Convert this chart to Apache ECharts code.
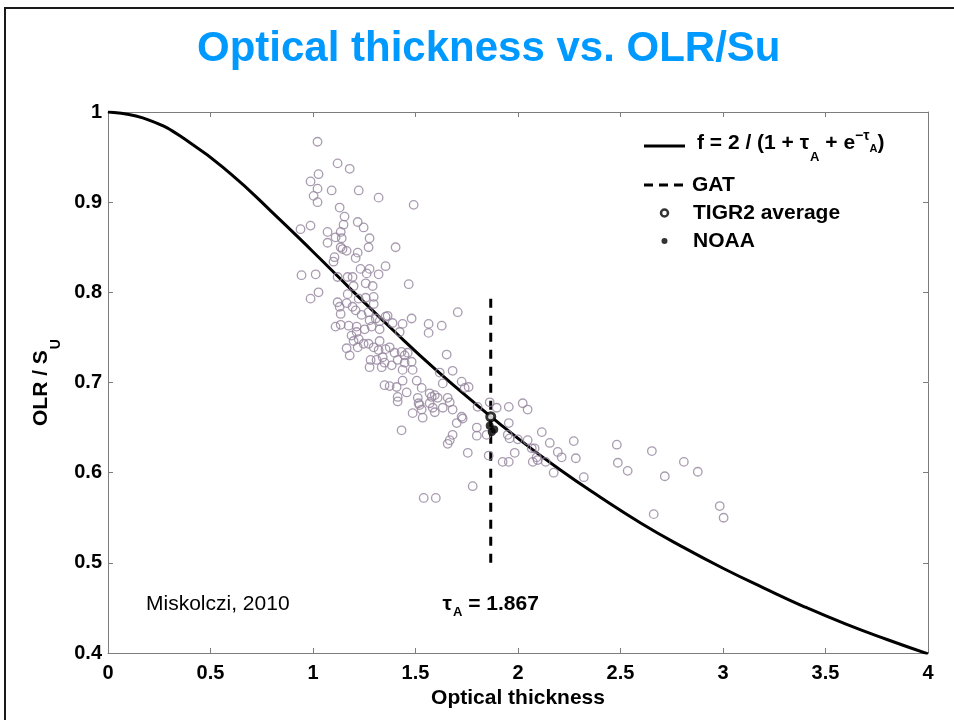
<!DOCTYPE html>
<html>
<head>
<meta charset="utf-8">
<script src="https://cdn.jsdelivr.net/npm/echarts@6/dist/echarts.min.js"></script>
<style>
  html, body { margin: 0; padding: 0; background: #ffffff; }
  #chart { width: 954px; height: 720px; }
</style>
</head>
<body>
<div id="chart"></div>
<script>
// Model curve f = 2 / (1 + tau + e^-tau), sampled every 0.2
const curveTau = [0, 0.2, 0.4, 0.6, 0.8, 1.0, 1.2, 1.4, 1.6, 1.8, 2.0, 2.2, 2.4, 2.6, 2.8, 3.0, 3.2, 3.4, 3.6, 3.8, 4.0];
const curveF   = [1.000, 0.991, 0.966, 0.931, 0.889, 0.845, 0.800, 0.756, 0.714, 0.675, 0.638, 0.604, 0.573, 0.544, 0.518, 0.494, 0.472, 0.451, 0.432, 0.415, 0.399];

// Global average tau (GAT) marker line
const gatTau = 1.867;
const gatRange = [0.5, 0.8];

// Individual TIGR2 profiles: [optical thickness, OLR / S_U]
const tigrProfiles = [
  [1.022, 0.967], [1.120, 0.943], [1.179, 0.937], [1.027, 0.931], [0.988, 0.923], [1.022, 0.915],
  [1.091, 0.913], [1.223, 0.913], [1.003, 0.907], [1.022, 0.900], [1.320, 0.905], [1.130, 0.894],
  [1.154, 0.884], [1.218, 0.878], [1.247, 0.872], [1.149, 0.875], [0.939, 0.870], [0.988, 0.874],
  [1.071, 0.867], [1.135, 0.867], [1.110, 0.861], [1.140, 0.860], [1.071, 0.855], [1.276, 0.860],
  [1.271, 0.850], [1.135, 0.850], [1.144, 0.848], [1.164, 0.846], [1.403, 0.850], [1.105, 0.839],
  [1.100, 0.834], [1.218, 0.844], [1.208, 0.838], [1.354, 0.829], [1.232, 0.826], [1.276, 0.826],
  [1.262, 0.821], [1.320, 0.820], [0.944, 0.819], [1.013, 0.820], [1.169, 0.817], [1.193, 0.817],
  [1.120, 0.817], [1.491, 0.897], [1.467, 0.809],
  [1.027, 0.800], [0.988, 0.793], [1.198, 0.807], [1.257, 0.810], [1.291, 0.807], [1.169, 0.798],
  [1.120, 0.789], [1.164, 0.788], [1.223, 0.793], [1.257, 0.794], [1.296, 0.795], [1.296, 0.787],
  [1.130, 0.784], [1.193, 0.784], [1.208, 0.780], [1.135, 0.776], [1.237, 0.775], [1.271, 0.778],
  [1.276, 0.769], [1.306, 0.771], [1.325, 0.768], [1.354, 0.773], [1.110, 0.762], [1.135, 0.764],
  [1.174, 0.763], [1.213, 0.762], [1.213, 0.756], [1.188, 0.752], [1.252, 0.759], [1.286, 0.762],
  [1.325, 0.759], [1.223, 0.748], [1.198, 0.746], [1.271, 0.743], [1.247, 0.743], [1.325, 0.746],
  [1.164, 0.738], [1.218, 0.739], [1.179, 0.730], [1.296, 0.739], [1.320, 0.736], [1.354, 0.737],
  [1.281, 0.725], [1.310, 0.725], [1.340, 0.728], [1.276, 0.717], [1.335, 0.717],
  [1.364, 0.774], [1.388, 0.766], [1.437, 0.765], [1.481, 0.771], [1.423, 0.756], [1.564, 0.765],
  [1.564, 0.755], [1.628, 0.763], [1.706, 0.778], [1.374, 0.739], [1.398, 0.733], [1.432, 0.734],
  [1.447, 0.730], [1.462, 0.733], [1.481, 0.723], [1.447, 0.722], [1.413, 0.725], [1.384, 0.719],
  [1.349, 0.722], [1.486, 0.714], [1.437, 0.714], [1.652, 0.731], [1.681, 0.713], [1.618, 0.711],
  [1.633, 0.699], [1.725, 0.701], [1.759, 0.695], [1.803, 0.673], [1.862, 0.678], [1.349, 0.697],
  [1.374, 0.696], [1.408, 0.695], [1.437, 0.702], [1.506, 0.702], [1.530, 0.694], [1.457, 0.689],
  [1.413, 0.684], [1.569, 0.688], [1.579, 0.684], [1.594, 0.686], [1.608, 0.683], [1.511, 0.683],
  [1.520, 0.675], [1.569, 0.677], [1.584, 0.672], [1.633, 0.672], [1.657, 0.683], [1.486, 0.666],
  [1.594, 0.667], [1.681, 0.670], [1.725, 0.662], [1.535, 0.661],
  [1.413, 0.679], [1.515, 0.677], [1.530, 0.670], [1.667, 0.678], [1.740, 0.694], [1.701, 0.655],
  [1.730, 0.660], [1.432, 0.647], [1.681, 0.642], [1.667, 0.636], [1.657, 0.632], [1.799, 0.650],
  [1.799, 0.641], [1.847, 0.642], [1.755, 0.622], [1.857, 0.619], [1.779, 0.585], [1.540, 0.572],
  [1.599, 0.572],
  [1.896, 0.672], [1.955, 0.673], [2.023, 0.677], [2.047, 0.670], [1.955, 0.655], [1.950, 0.642],
  [1.959, 0.638], [1.999, 0.637], [2.047, 0.636], [2.116, 0.645], [2.067, 0.627], [2.081, 0.627],
  [1.984, 0.622], [2.155, 0.633], [2.194, 0.623], [2.213, 0.617], [2.272, 0.635], [2.282, 0.616],
  [2.091, 0.617], [2.072, 0.612], [2.096, 0.614], [2.135, 0.612], [1.925, 0.612], [1.955, 0.612],
  [2.174, 0.600], [2.321, 0.595], [2.482, 0.631], [2.653, 0.624], [2.487, 0.611], [2.535, 0.602],
  [2.809, 0.612], [2.877, 0.601], [2.716, 0.596], [2.662, 0.554], [2.984, 0.563], [3.003, 0.550]
];

// Averages
const tigrAverage = [[1.867, 0.662]];
const noaaPoints = [[1.862, 0.652], [1.884, 0.648], [1.872, 0.645]];

// Axis ranges
const xRange = [0, 4, 0.5];
const yRange = [0.4, 1, 0.1];

const FONT = "'Liberation Sans', Arial, Helvetica, sans-serif";
const AXIS_GRAY = '#7d7d7d';
const CURVE_NAME = 'f = 2 / (1 + \u03c4A + e\u2212\u03c4A)';

const bold = (size, extra) => Object.assign({
  fontSize: size, fontWeight: 'bold', fontFamily: FONT, color: '#000', verticalAlign: 'top'
}, extra || {});

const chart = echarts.init(document.getElementById('chart'), null, { renderer: 'canvas' });

const tickFmt = v => String(+(+v).toFixed(2));

const option = {
  animation: false,
  backgroundColor: '#ffffff',
  title: {
    text: 'Optical thickness vs. OLR/Su',
    left: 197,
    top: 28,
    padding: 0,
    textStyle: { color: '#0099ff', fontSize: 42, fontWeight: 'bold', fontFamily: FONT }
  },
  graphic: [
    {
      type: 'rect', silent: true, z: -10,
      shape: { x: 5, y: 8, width: 1100, height: 1000 },
      style: { fill: 'transparent', stroke: '#1a1a1a', lineWidth: 2 }
    },
    {
      type: 'text', silent: true, x: 146, y: 604,
      style: { text: 'Miskolczi, 2010', fontSize: 21, fontFamily: FONT, fill: '#000', verticalAlign: 'middle' }
    }
  ],
  legend: [
    {
      data: [{ name: CURVE_NAME, icon: 'rect' }],
      left: 644, top: 129.5, padding: 0,
      itemWidth: 41, itemHeight: 3,
      itemStyle: { color: '#000', borderWidth: 0 },
      selectedMode: false,
      formatter: () => '{m0|f = 2 / (1 + \u03c4}{s|A}{m| + e}{p|\u2212\u03c4}{q|A}{m|)}',
      textStyle: {
        rich: {
          m0: bold(21, { padding: [4, 0, 0, 7] }),
          m: bold(21, { padding: [4, 0, 0, 0] }),
          s: bold(13, { padding: [22, 0, 0, 1] }),
          p: bold(14, { padding: [1, 0, 0, 0] }),
          q: bold(11, { padding: [15, 0, 0, 0] })
        }
      }
    },
    {
      data: [{ name: 'GAT', icon: 'path://M0,0h9v3h-9zM15,0h9v3h-9zM30,0h9v3h-9z' }],
      left: 644, top: 174.5, padding: 0,
      itemWidth: 39, itemHeight: 3,
      itemStyle: { color: '#000', borderWidth: 0 },
      selectedMode: false,
      formatter: n => '{t|' + n + '}',
      textStyle: { rich: { t: bold(21, { padding: [0, 0, 0, 4] }) } }
    },
    {
      data: [{ name: 'TIGR2 average', icon: 'circle' }],
      left: 659.75, top: 202.5, padding: 0,
      itemWidth: 41, itemHeight: 7,
      itemStyle: { color: '#fff', borderColor: '#000', borderWidth: 2.5 },
      selectedMode: false,
      formatter: n => '{t|' + n + '}',
      textStyle: { rich: { t: bold(21, { padding: [0, 0, 0, 3] }) } }
    },
    {
      data: [{ name: 'NOAA', icon: 'circle' }],
      left: 661.5, top: 230.5, padding: 0,
      itemWidth: 41, itemHeight: 6,
      itemStyle: { color: '#000', borderWidth: 0 },
      selectedMode: false,
      formatter: n => '{t|' + n + '}',
      textStyle: { rich: { t: bold(21, { padding: [0, 0, 0, 3] }) } }
    }
  ],
  grid: { left: 108, right: 26, top: 112, bottom: 67, containLabel: false },
  xAxis: [
    {
      type: 'value', position: 'bottom',
      min: xRange[0], max: xRange[1], interval: xRange[2],
      name: 'Optical thickness', nameLocation: 'middle', nameGap: 28,
      nameTextStyle: { fontSize: 21, fontWeight: 'bold', fontFamily: FONT, color: '#000' },
      axisLine: { show: true, onZero: false, lineStyle: { color: AXIS_GRAY, width: 1 } },
      axisTick: { show: true, inside: true, length: 5, lineStyle: { color: AXIS_GRAY } },
      axisLabel: { show: true, margin: 10, fontSize: 20, fontWeight: 'bold', fontFamily: FONT, color: '#000', formatter: tickFmt },
      splitLine: { show: false }
    },
    {
      type: 'value', position: 'top',
      min: xRange[0], max: xRange[1], interval: xRange[2],
      axisLine: { show: true, onZero: false, lineStyle: { color: AXIS_GRAY, width: 1 } },
      axisTick: { show: true, inside: true, length: 5, lineStyle: { color: AXIS_GRAY } },
      axisLabel: { show: false },
      splitLine: { show: false }
    }
  ],
  yAxis: [
    {
      type: 'value', position: 'left',
      min: yRange[0], max: yRange[1], interval: yRange[2],
      name: '{m|OLR / S}{s|U}', nameLocation: 'middle', nameGap: 44,
      nameTextStyle: {
        rich: {
          m: bold(21, { padding: [0, 0, 0, 0] }),
          s: bold(14, { padding: [19, 0, 0, 1] })
        }
      },
      axisLine: { show: true, onZero: false, lineStyle: { color: AXIS_GRAY, width: 1 } },
      axisTick: { show: true, inside: true, length: 5, lineStyle: { color: AXIS_GRAY } },
      axisLabel: { show: true, margin: 6, fontSize: 20, fontWeight: 'bold', fontFamily: FONT, color: '#000', formatter: tickFmt },
      splitLine: { show: false }
    },
    {
      type: 'value', position: 'right',
      min: yRange[0], max: yRange[1], interval: yRange[2],
      axisLine: { show: true, onZero: false, lineStyle: { color: AXIS_GRAY, width: 1 } },
      axisTick: { show: true, inside: true, length: 5, lineStyle: { color: AXIS_GRAY } },
      axisLabel: { show: false },
      splitLine: { show: false }
    }
  ],
  series: [
    {
      name: CURVE_NAME, type: 'line',
      data: curveTau.map((t, i) => [t, curveF[i]]),
      smooth: true, symbol: 'none', showSymbol: false,
      lineStyle: { color: '#000', width: 3 }, itemStyle: { color: '#000' },
      z: 2, silent: true
    },
    {
      name: 'GAT', type: 'line',
      data: gatRange.map(v => [gatTau, v]),
      symbol: 'none', showSymbol: false,
      lineStyle: { color: '#000', width: 3, type: [9, 8] }, itemStyle: { color: '#000' },
      z: 2, silent: true,
      markPoint: {
        symbol: 'circle', symbolSize: 1, silent: true,
        itemStyle: { color: 'rgba(0,0,0,0)' },
        label: {
          show: true, position: 'inside',
          formatter: '{t|\u03c4}{s|A}{m| = ' + gatTau + '}',
          rich: {
            t: bold(21, { padding: [0, 0, 0, 0] }),
            s: bold(13, { padding: [12, 0, 0, 1] }),
            m: bold(21, { padding: [0, 0, 0, 0] })
          }
        },
        data: [{ coord: [gatTau, 0.4516] }]
      }
    },
    {
      name: 'TIGR2 profiles', type: 'scatter',
      data: tigrProfiles,
      symbol: 'circle', symbolSize: 8.5,
      itemStyle: { color: 'rgba(0,0,0,0)', borderColor: '#94839c', borderWidth: 1.3 },
      z: 3, silent: true
    },
    {
      name: 'NOAA', type: 'scatter',
      data: noaaPoints,
      symbol: 'circle', symbolSize: 8,
      itemStyle: { color: '#000' },
      z: 4, silent: true
    },
    {
      name: 'TIGR2 average', type: 'scatter',
      data: tigrAverage,
      symbol: 'circle', symbolSize: 8,
      itemStyle: { color: '#fff', borderColor: '#000', borderWidth: 3 },
      z: 5, silent: true
    }
  ]
};

chart.setOption(option);
</script>
</body>
</html>
